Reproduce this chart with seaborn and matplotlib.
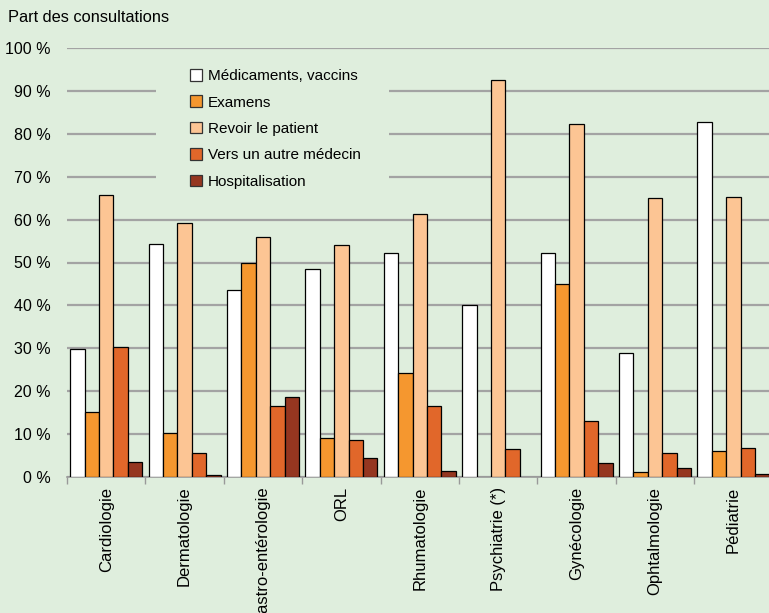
import numpy as np
import pandas as pd
import seaborn as sns
import matplotlib.pyplot as plt
from matplotlib.patches import Patch, Rectangle

# Data (% of consultations)
specialites = ['Cardiologie', 'Dermatologie', 'Gastro-entérologie', 'ORL', 'Rhumatologie',
               'Psychiatrie (*)', 'Gynécologie', 'Ophtalmologie', 'Pédiatrie']
series = ['Médicaments, vaccins', 'Examens', 'Revoir le patient',
          'Vers un autre médecin', 'Hospitalisation']
medicaments = [29.8, 54.4, 43.7, 48.4, 52.3, 40.0, 52.3, 28.8, 82.8]
examens = [15.1, 10.2, 50.0, 9.1, 24.2, np.nan, 45.1, 1.2, 6.1]
revoir = [65.7, 59.3, 55.9, 54.1, 61.3, 92.5, 82.2, 65.0, 65.2]
autre_medecin = [30.2, 5.7, 16.5, 8.7, 16.5, 6.6, 13.1, 5.7, 6.7]
hospitalisation = [3.4, 0.4, 18.6, 4.5, 1.3, np.nan, 3.2, 2.1, 0.7]
yticks = [0, 10, 20, 30, 40, 50, 60, 70, 80, 90, 100]
colors = ['#FFFFFF', '#F5972F', '#FCC594', '#E1672A', '#953620']
bg = '#DFEEDD'

df = pd.DataFrame({
    'Spécialité': specialites * 5,
    'Type': np.repeat(series, len(specialites)),
    'Part': medicaments + examens + revoir + autre_medecin + hospitalisation,
})

plt.rcParams['font.family'] = ['Liberation Sans', 'DejaVu Sans']
fig = plt.figure(figsize=(7.69, 6.13), dpi=100, facecolor=bg)
ax = fig.add_axes([67 / 769, 1 - 477 / 613, 9 * 78.4 / 769, 429 / 613])
ax.set_facecolor(bg)
ax.set_axisbelow(True)

sns.barplot(data=df, x='Spécialité', y='Part', hue='Type', order=specialites,
            hue_order=series, palette=colors, saturation=1, width=0.92,
            edgecolor='black', linewidth=0.9, legend=False, ax=ax, zorder=3)

ax.set_ylim(0, 100)
ax.set_xlim(-0.5, len(specialites) - 0.5)
ax.set_yticks(yticks)
ax.set_yticklabels([f'{v} %' for v in yticks], fontsize=11.5)
ax.yaxis.grid(True, color='#A3A3A3', linewidth=1.6)
ax.tick_params(axis='y', length=0, pad=12)
ax.set_xticks(range(len(specialites)))
ax.set_xticklabels(specialites, rotation=90, fontsize=12)
ax.tick_params(axis='x', which='major', length=0, pad=7)
ax.set_xticks(np.arange(-0.5, len(specialites), 1), minor=True)
ax.tick_params(axis='x', which='minor', length=5, color='#999999', width=1)
ax.set_xlabel('')
ax.set_ylabel('')
for side in ['top', 'right', 'left']:
    ax.spines[side].set_visible(False)
ax.spines['bottom'].set_color('#999999')
ax.spines['bottom'].set_linewidth(1.2)

fig.text(8 / 769, 1 - 18 / 613, 'Part des consultations', fontsize=11.8, va='center', ha='left')

# legend area hides the gridlines behind it
ax.add_patch(Rectangle((156 / 769, 1 - 196 / 613), 233 / 769, 136 / 613,
                       transform=fig.transFigure, facecolor=bg, edgecolor='none', zorder=1))
handles = [Patch(facecolor=c, edgecolor='#333333', linewidth=0.9) for c in colors]
leg = ax.legend(handles, series, loc='upper left', bbox_to_anchor=(190 / 769, 1 - 69 / 613),
                bbox_transform=fig.transFigure, fontsize=11, frameon=False,
                handlelength=0.8, handleheight=0.8, handletextpad=0.35,
                labelspacing=0.8, borderpad=0, borderaxespad=0)
leg.set_zorder(5)

fig.savefig('out.png', dpi=100, facecolor=bg)
